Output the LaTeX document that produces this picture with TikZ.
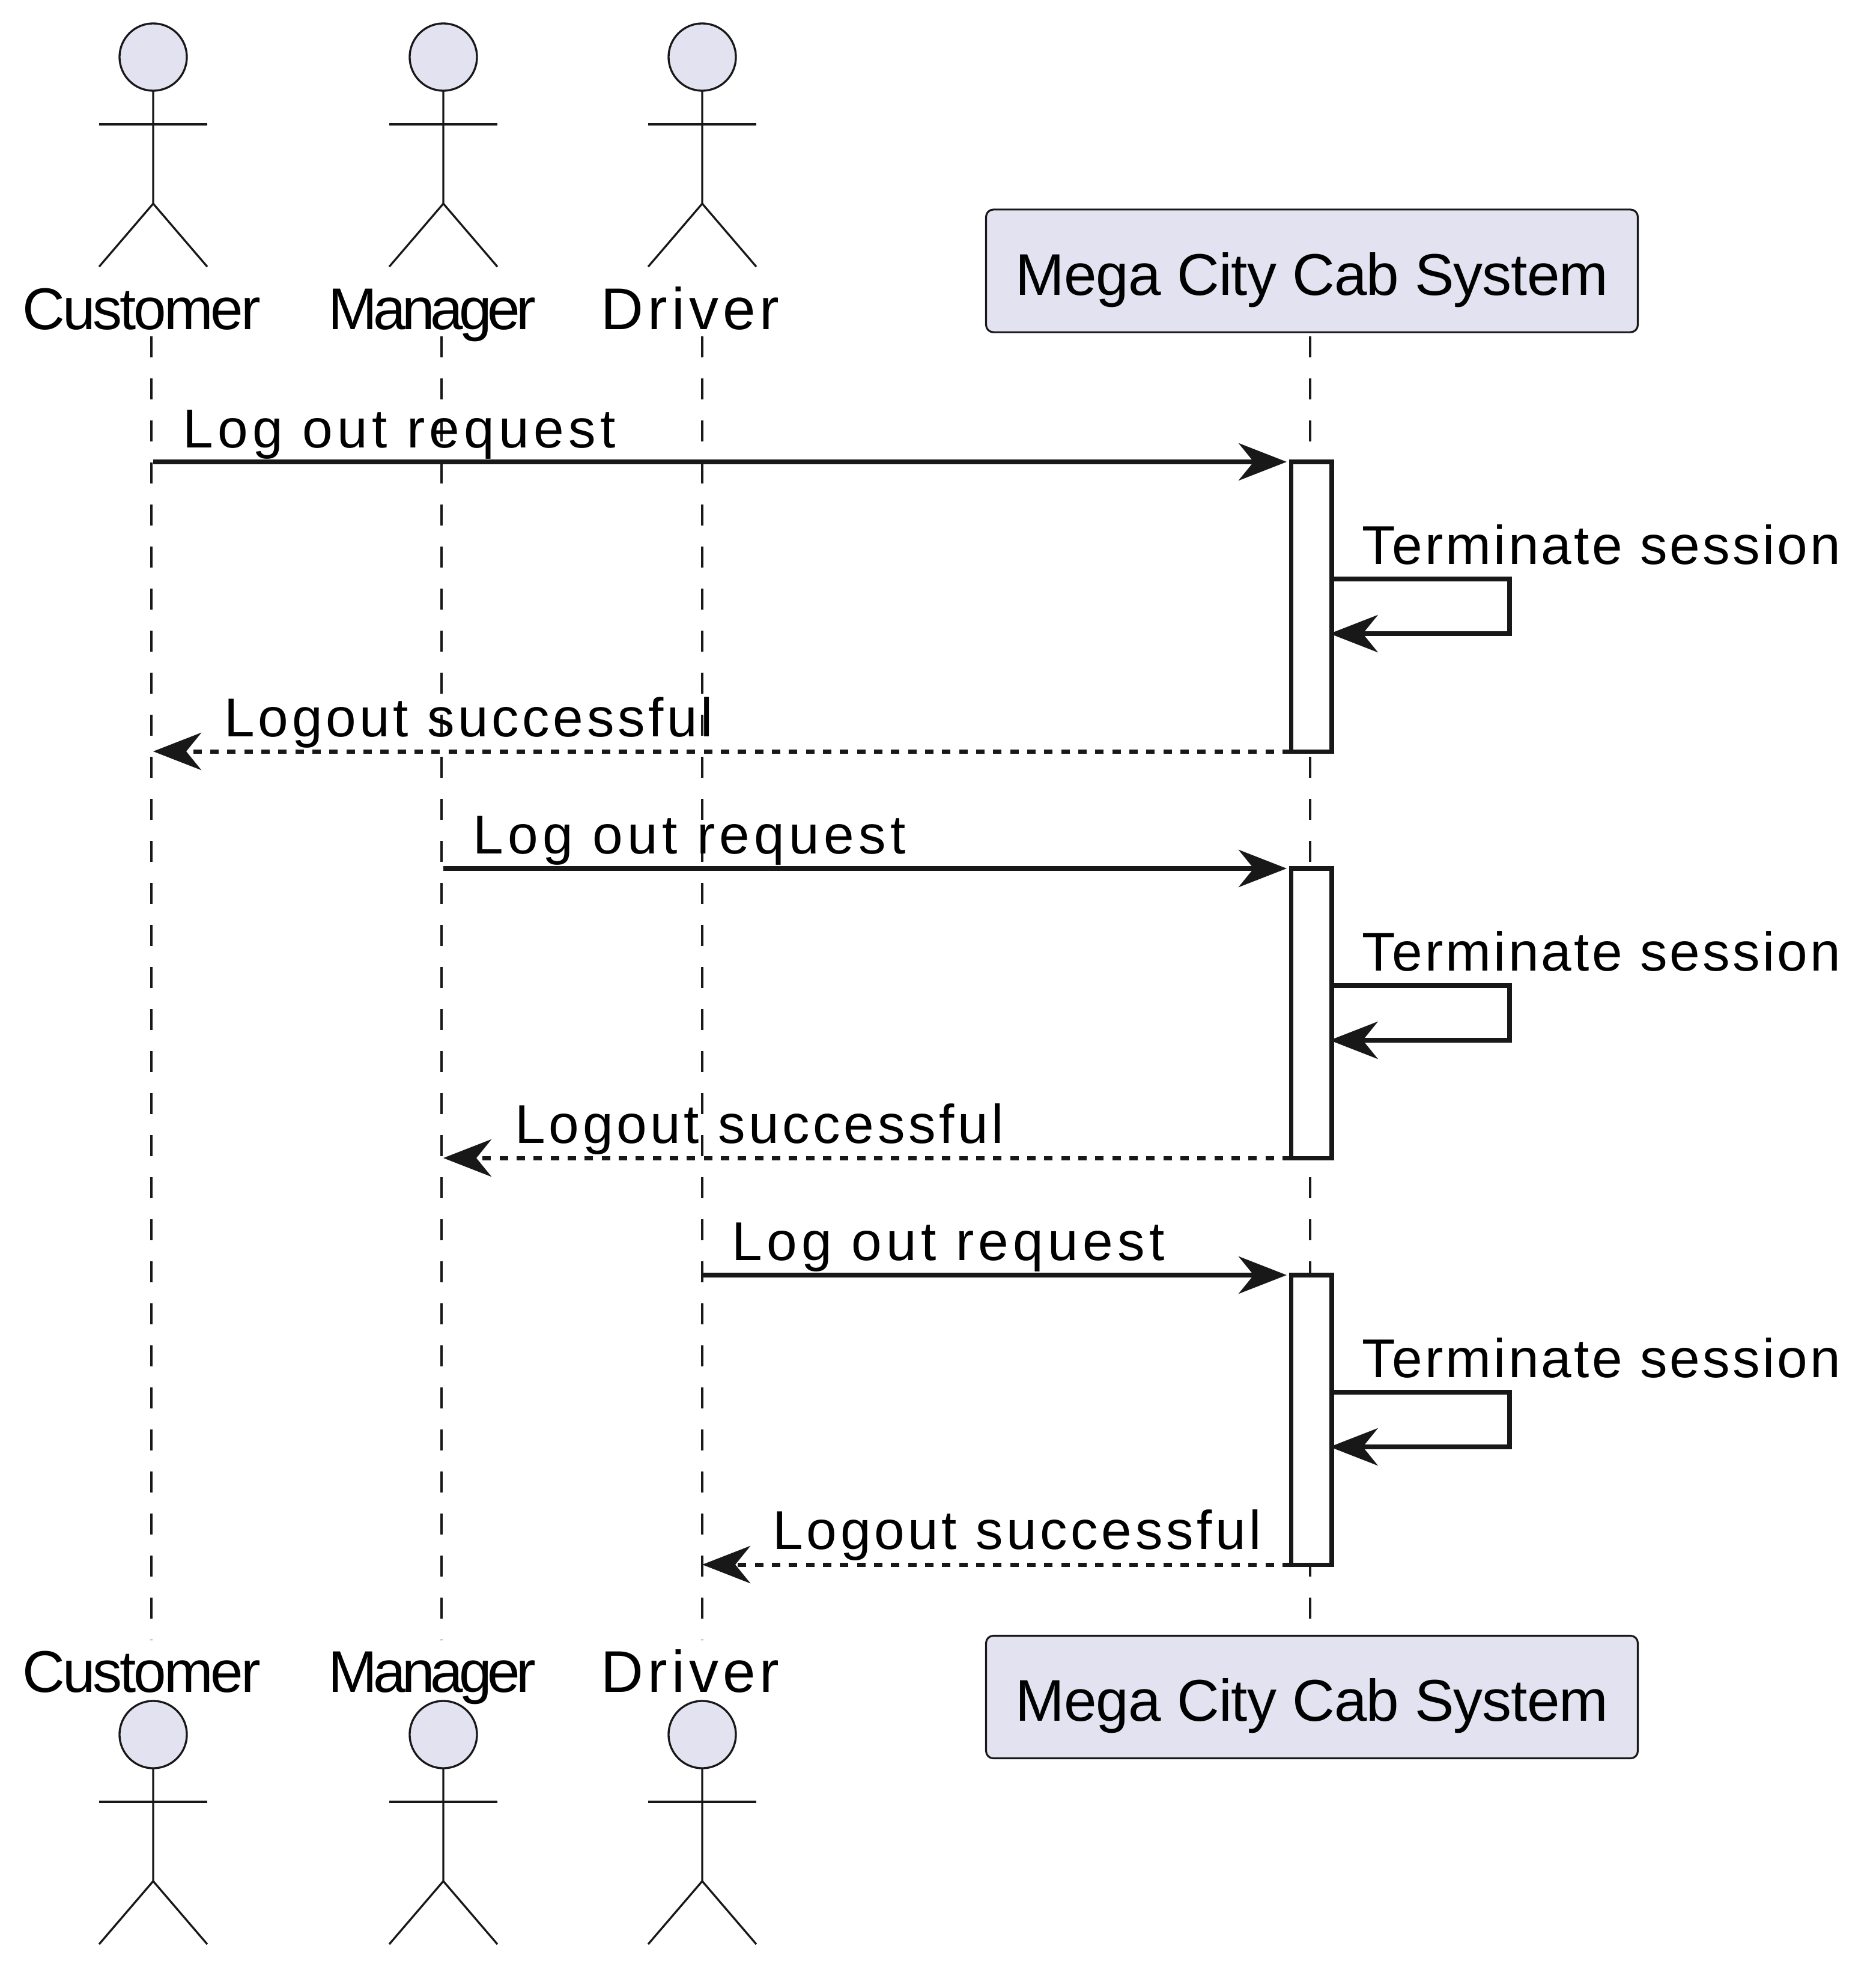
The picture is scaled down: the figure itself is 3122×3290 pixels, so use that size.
\documentclass[tikz,border=0pt]{standalone}
\usepackage{fontspec}
\usetikzlibrary{arrows.meta}
\setmainfont{Liberation Sans}
\newfontfamily\customerfont[LetterSpace=-4.2]{Liberation Sans}
\newfontfamily\managerfont[LetterSpace=-7.1]{Liberation Sans}
\newfontfamily\driverfont[LetterSpace=7.2]{Liberation Sans}
\newfontfamily\systemfont[LetterSpace=-1]{Liberation Sans}
\newfontfamily\requestfont[LetterSpace=8]{Liberation Sans}
\newfontfamily\terminatefont[LetterSpace=4.6]{Liberation Sans}
\newfontfamily\logoutfont[LetterSpace=6.2]{Liberation Sans}
\definecolor{partfill}{HTML}{E2E2F0}
\definecolor{ink}{HTML}{181818}
% actor: name, x, y of the head centre
\newcommand{\actor}[3]{
  \node[head] (#1) at (#2,#3) {};
  \draw[limb] (#1.south) -- ++(0,188) -- ++(-90,105);
  \draw[limb] (#1.south) ++(0,188) -- ++(90,105);
  \draw[limb] (#1.south) ++(-90,56) -- ++(180,0);
}

\begin{document}
\begin{tikzpicture}[x=0.24pt, y=-0.24pt]
\tikzstyle{head}=[circle, minimum size=26.9pt, inner sep=0pt, outer sep=0pt, draw=ink, line width=0.8pt, fill=partfill]
\tikzstyle{limb}=[draw=ink, line width=0.8pt]
\tikzstyle{lifeline}=[draw=ink, line width=0.8pt, dash pattern=on 8.4pt off 8.4pt]
\tikzstyle{part}=[rectangle, rounded corners=2.9pt, draw=ink, line width=0.75pt, fill=partfill, minimum width=260.4pt, minimum height=49pt, inner sep=0pt, text height=28.8pt, text depth=9.6pt, font=\systemfont\fontsize{23.52pt}{28pt}\selectfont]
\tikzstyle{bar}=[rectangle, draw=ink, line width=1.7pt, fill=white, minimum width=16.3pt, minimum height=115.7pt, inner sep=0pt, outer sep=0pt]
\tikzstyle{connect}=[-{Stealth[length=19.2pt, width=14.9pt, inset=6pt]}, draw=ink, line width=1.7pt]
\tikzstyle{reply}=[connect, dash pattern=on 3.4pt off 3.4pt]
\tikzstyle{caption}=[anchor=base west, inner sep=0pt]
\tikzstyle{request}=[caption, font=\requestfont\fontsize{21.84pt}{26pt}\selectfont]
\tikzstyle{terminate}=[caption, font=\terminatefont\fontsize{21.84pt}{26pt}\selectfont]
\tikzstyle{logout}=[caption, font=\logoutfont\fontsize{21.84pt}{26pt}\selectfont]
\useasboundingbox (0,0) rectangle (3122,3290);

% 1. Lifelines
%%%%%%%%%%%%%%
\coordinate (customerL) at (252,560);
\coordinate (customerE) at (252,2731);
\coordinate (managerL) at (735,560);
\coordinate (managerE) at (735,2731);
\coordinate (driverL) at (1169,560);
\coordinate (driverE) at (1169,2731);
\coordinate (systemL) at (2181,560);
\coordinate (systemE) at (2181,2724);
\draw[lifeline] (customerL) -- (customerE);
\draw[lifeline] (managerL) -- (managerE);
\draw[lifeline] (driverL) -- (driverE);
\draw[lifeline] (systemL) -- (systemE);

% 2. Participants
%%%%%%%%%%%%%%%%%
\actor{customer}{255}{95}
\actor{manager}{738}{95}
\actor{driver}{1169}{95}
\actor{customerB}{255}{2888}
\actor{managerB}{738}{2888}
\actor{driverB}{1169}{2888}
\node[caption, font=\customerfont\fontsize{23.52pt}{28pt}\selectfont] (customerT) at (37,548) {Customer};
\node[caption, font=\managerfont\fontsize{23.52pt}{28pt}\selectfont] (managerT) at (546,548) {Manager};
\node[caption, font=\driverfont\fontsize{23.52pt}{28pt}\selectfont] (driverT) at (1000,548) {Driver};
\node[caption, font=\customerfont\fontsize{23.52pt}{28pt}\selectfont] (customerBT) at (37,2817) {Customer};
\node[caption, font=\managerfont\fontsize{23.52pt}{28pt}\selectfont] (managerBT) at (546,2817) {Manager};
\node[caption, font=\driverfont\fontsize{23.52pt}{28pt}\selectfont] (driverBT) at (1000,2817) {Driver};
\node[part] (system) at (2184,451) {Mega City Cab System};
\node[part] (systemB) at (2184,2825.5) {Mega City Cab System};

% 3. Activations
%%%%%%%%%%%%%%%%
\node[bar] (barA) at (2183,1010) {};
\node[bar] (barB) at (2183,1687) {};
\node[bar] (barC) at (2183,2364) {};

% 4. Arrows
%%%%%%%%%%%
\coordinate (selfA1) at (2513,964);
\coordinate (selfA2) at (2513,1055);
\coordinate (selfB1) at (2513,1641);
\coordinate (selfB2) at (2513,1732);
\coordinate (selfC1) at (2513,2318);
\coordinate (selfC2) at (2513,2409);
\draw[connect, shorten >=1.7pt] (customer |- barA.north west) -- (barA.north west);
\draw[connect, shorten >=-0.8pt] (barA.east |- selfA1) -- (selfA1) -- (selfA2) -- (barA.east |- selfA2);
\draw[reply] (barA.south west) -- (customer |- barA.south west);
\draw[connect, shorten >=1.7pt] (manager |- barB.north west) -- (barB.north west);
\draw[connect, shorten >=-0.8pt] (barB.east |- selfB1) -- (selfB1) -- (selfB2) -- (barB.east |- selfB2);
\draw[reply] (barB.south west) -- (manager |- barB.south west);
\draw[connect, shorten >=1.7pt] (driver |- barC.north west) -- (barC.north west);
\draw[connect, shorten >=-0.8pt] (barC.east |- selfC1) -- (selfC1) -- (selfC2) -- (barC.east |- selfC2);
\draw[reply] (barC.south west) -- (driver |- barC.south west);

% 5. Messages
%%%%%%%%%%%%%
\node[request] (reqA) at (304,745) {Log out request};
\node[terminate] (termA) at (2267,939) {Terminate session};
\node[logout] (outA) at (373,1226) {Logout successful};
\node[request] (reqB) at (787,1421) {Log out request};
\node[terminate] (termB) at (2267,1616) {Terminate session};
\node[logout] (outB) at (857,1903) {Logout successful};
\node[request] (reqC) at (1218,2098) {Log out request};
\node[terminate] (termC) at (2267,2293) {Terminate session};
\node[logout] (outC) at (1286,2579) {Logout successful};

\end{tikzpicture}
\end{document}
